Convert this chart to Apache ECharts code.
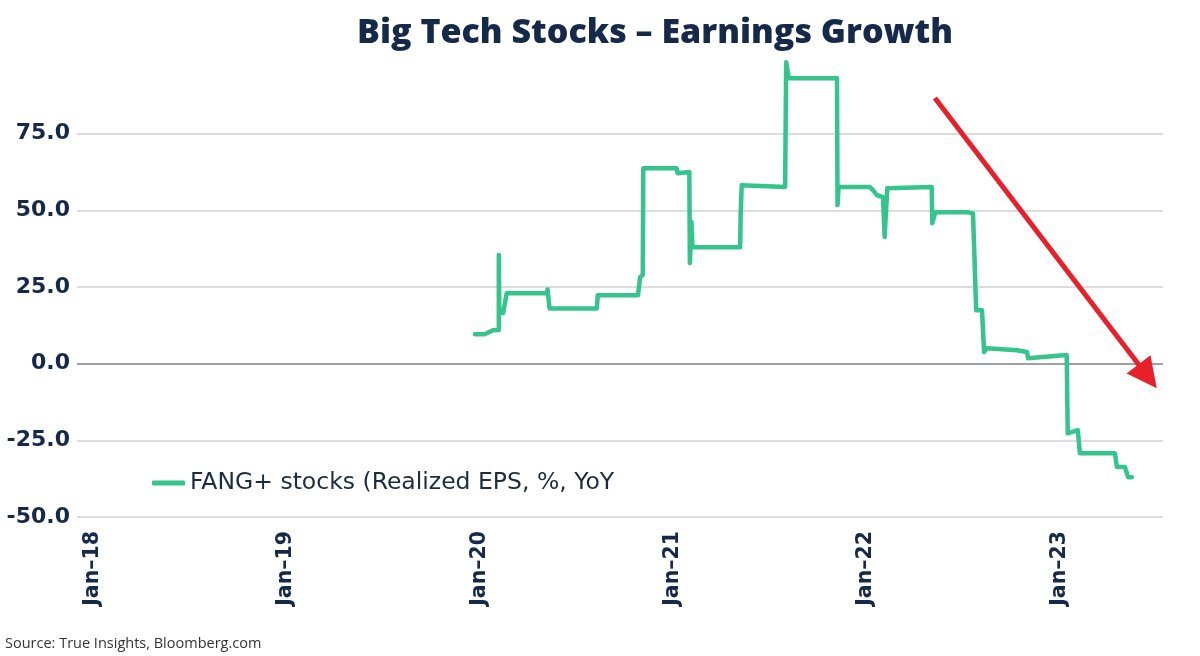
<!DOCTYPE html>
<html>
<head>
<meta charset="utf-8">
<title>Big Tech Stocks - Earnings Growth</title>
<script src="https://cdn.jsdelivr.net/npm/echarts@6/dist/echarts.min.js"></script>
<style>
  html, body { margin: 0; padding: 0; background: #fff; }
  #board { width: 1200px; height: 656px; }
</style>
</head>
<body>
<div id="board"></div>
<script>
// 数据
const seriesName = "FANG+ stocks (Realized EPS, %, YoY";
const dates = [
  "2019-12-24", "2020-01-11", "2020-01-21", "2020-01-27", "2020-02-07", "2020-02-07",
  "2020-02-08", "2020-02-15", "2020-02-22", "2020-05-08", "2020-05-09", "2020-05-12",
  "2020-05-13", "2020-08-10", "2020-08-11", "2020-08-12", "2020-10-27", "2020-10-31",
  "2020-11-05", "2020-11-06", "2021-01-08", "2021-01-10", "2021-02-01", "2021-02-02",
  "2021-02-05", "2021-02-07", "2021-05-08", "2021-05-09", "2021-05-11", "2021-08-01",
  "2021-08-03", "2021-08-08", "2021-11-07", "2021-11-08", "2021-11-10", "2022-01-08",
  "2022-01-14", "2022-01-21", "2022-02-02", "2022-02-05", "2022-02-10", "2022-05-05",
  "2022-05-06", "2022-05-12", "2022-07-11", "2022-07-22", "2022-07-28", "2022-08-08",
  "2022-08-12", "2022-08-17", "2022-10-13", "2022-11-01", "2022-11-03", "2022-11-05",
  "2023-01-15", "2023-01-17", "2023-02-05", "2023-02-09", "2023-04-16", "2023-04-20",
  "2023-05-05", "2023-05-11", "2023-05-18"
];
const eps = [
  9.6, 9.6, 10.4, 10.9, 11, 35.4,
  16.5, 16.5, 23, 23, 24.2, 24,
  18, 18, 20, 22.3, 22.3, 28.2,
  28.9, 63.7, 63.7, 62.1, 62.5, 32.8,
  46.2, 38, 38, 49, 58.2, 57.6,
  98.3, 93.1, 93.1, 51.7, 57.6, 57.6,
  56.6, 55, 54.3, 41.3, 57.2, 57.6,
  45.8, 49.4, 49.4, 49, 17.4, 17.4,
  3.8, 5, 4.4, 3.8, 1.8, 2.4,
  2.8, -22.7, -21.7, -29.2, -29.2, -33.7,
  -33.7, -37, -37
];
const yTicks = [-50, -25, 0, 25, 50, 75];
// 红色箭头 (trend annotation, data units)
const arrowStart = ["2022-05-11", 86.6];
const arrowEnd = ["2023-06-17", -4.1];

const navy = "#15294a";
const green = "#35c48b";

const monthNames = ["Jan", "Feb", "Mar", "Apr", "May", "Jun", "Jul", "Aug", "Sep", "Oct", "Nov", "Dec"];

const option = {
  backgroundColor: "#fff",
  animation: false,
  title: {
    text: "Big Tech Stocks \u2013 Earnings Growth",
    left: 650,
    textAlign: "center",
    top: 11,
    textStyle: { fontFamily: "Open Sans", fontWeight: 800, fontSize: 34, color: navy }
  },
  legend: {
    left: 147,
    top: 466,
    icon: "roundRect",
    itemWidth: 33,
    itemHeight: 5,
    itemGap: 4,
    textStyle: { fontFamily: "DejaVu Sans", fontSize: 23.5, color: "#1c2b3d" },
    data: [seriesName]
  },
  graphic: [
    {
      type: "text",
      left: 5,
      top: 636,
      style: { text: "Source: True Insights, Bloomberg.com", font: "14.5px 'Open Sans'", fill: "#333" }
    }
  ],
  grid: { left: 77, right: 37, top: 57, bottom: 139, containLabel: false },
  xAxis: {
    type: "time",
    min: "2017-12-02",
    max: "2023-07-16",
    axisLine: { show: false },
    axisTick: { show: false },
    splitLine: { show: false },
    axisLabel: {
      rotate: 90,
      margin: 14,
      fontFamily: "DejaVu Sans",
      fontWeight: "bold",
      fontSize: 20.5,
      color: navy,
      showMinLabel: false,
      showMaxLabel: false,
      formatter: function (val) {
        const d = new Date(val);
        if (d.getMonth() !== 0 || d.getDate() !== 1) return "";
        return monthNames[0] + "\u2013" + String(d.getFullYear()).slice(2);
      }
    }
  },
  yAxis: {
    type: "value",
    min: yTicks[0],
    max: 100,
    interval: 25,
    axisLine: { show: false },
    axisTick: { show: false },
    axisLabel: {
      margin: 7,
      fontFamily: "DejaVu Sans",
      fontWeight: "bold",
      fontSize: 22,
      color: navy,
      showMaxLabel: false,
      formatter: v => v.toFixed(1)
    },
    splitLine: {
      showMaxLine: false,
      lineStyle: {
        width: 1.5,
        color: ["#cfd0d2", "#cfd0d2", "#7d8086", "#cfd0d2", "#cfd0d2", "#cfd0d2", "rgba(0,0,0,0)"]
      }
    }
  },
  series: [
    {
      name: seriesName,
      type: "line",
      showSymbol: false,
      color: green,
      lineStyle: { width: 4.5, color: green, cap: "round", join: "round" },
      data: dates.map((d, i) => [d, eps[i]]),
      markLine: {
        silent: true,
        symbol: ["none", "triangle"],
        symbolSize: 30,
        label: { show: false },
        lineStyle: { color: "#e8202a", width: 5, type: "solid" },
        data: [[{ coord: arrowStart }, { coord: arrowEnd }]]
      }
    }
  ]
};

const myChart = echarts.init(document.getElementById("board"));
myChart.setOption(option);
</script>
</body>
</html>
